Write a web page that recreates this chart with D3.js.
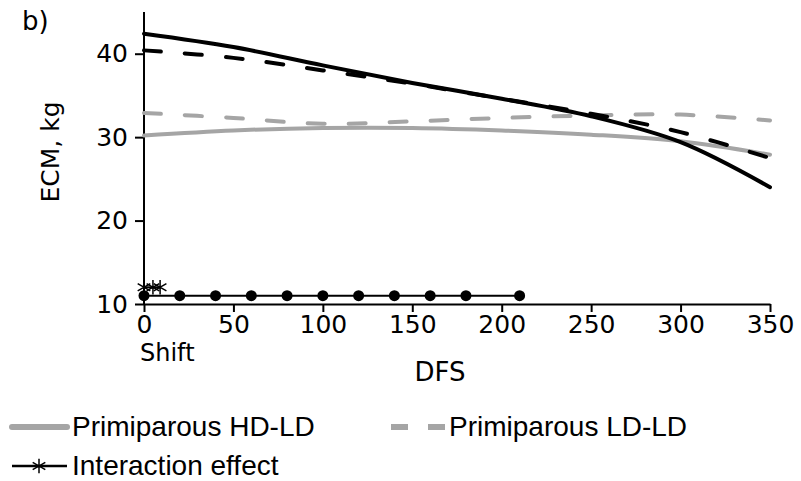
<!DOCTYPE html>
<html><head><meta charset="utf-8">
<script src="https://cdn.jsdelivr.net/npm/d3@7"></script>
<style>body{margin:0;background:#fff}svg{display:block}text{font-family:"DejaVu Sans",Arial,sans-serif;fill:#000}</style>
</head><body><svg id="c" width="801" height="481"></svg>
<script>
const dfs = [0, 50, 100, 150, 200, 250, 300, 350];
const multiHDLD = [42.4, 40.8, 38.6, 36.5, 34.6, 32.5, 29.4, 24.0];
const multiLDLD = [40.4, 39.5, 38.0, 36.4, 34.6, 32.8, 30.6, 27.5];
const primiHDLD = [30.2, 30.8, 31.1, 31.1, 30.8, 30.3, 29.5, 27.9];
const primiLDLD = [32.9, 32.3, 31.6, 31.9, 32.3, 32.6, 32.7, 32.0];
const parityDays = [0, 20, 40, 60, 80, 100, 120, 140, 160, 180, 210];
const parityLevel = 11;
const interactionDays = [0, 5, 9];
const interactionLevel = 12;
const xTicks = [0, 50, 100, 150, 200, 250, 300, 350];
const yTicks = [10, 20, 30, 40];
const legendLabels = ["Primiparous HD-LD", "Primiparous LD-LD", "Interaction effect"];

const svg = d3.select("#c");
const x = d3.scaleLinear().domain([0, 350]).range([144, 770]);
const y = d3.scaleLinear().domain([10, 45]).range([304, 12]);
const gray = "#a5a5a5";
const F = '"DejaVu Sans",Arial,sans-serif';
const L = '"Liberation Sans",Arial,sans-serif';

// axes
const xa = svg.append("g").attr("transform", `translate(0,${y(10)})`)
  .call(d3.axisBottom(x).tickValues(xTicks).tickSize(8).tickSizeOuter(0).tickPadding(3));
const ya = svg.append("g").attr("transform", `translate(${x(0)},0)`)
  .call(d3.axisLeft(y).tickValues(yTicks).tickSize(9).tickSizeOuter(0).tickPadding(7));
[xa, ya].forEach(a => {
  a.selectAll("path,line").attr("stroke", "#000").attr("stroke-width", 2);
  a.selectAll("text").style("font-size", "25px").style("font-family", F).attr("fill", "#000");
});
ya.select(".domain").attr("d", `M0,${y(10)}V${y(45)}`);

const line = d3.line().x(d => x(d[0])).y(d => y(d[1])).curve(d3.curveCatmullRom.alpha(0.5));
function series(vals, color, dash) {
  svg.append("path").datum(dfs.map((d, i) => [d, vals[i]]))
    .attr("d", line).attr("fill", "none").attr("stroke", color)
    .attr("stroke-width", 4).attr("stroke-dasharray", dash || null).attr("stroke-linecap", "round");
}
series(primiHDLD, gray);
series(primiLDLD, gray, "17,24");
series(multiLDLD, "#000", "17,24");
series(multiHDLD, "#000");

// parity effect
svg.append("path").datum(parityDays.map(d => [d, parityLevel]))
  .attr("d", d3.line().x(d => x(d[0])).y(d => y(d[1])))
  .attr("stroke", "#000").attr("stroke-width", 2).attr("fill", "none");
svg.selectAll(".dot").data(parityDays).join("circle")
  .attr("cx", d => x(d)).attr("cy", y(parityLevel)).attr("r", 5.5).attr("fill", "#000");

// interaction effect
svg.append("path").datum(interactionDays.map(d => [d, interactionLevel]))
  .attr("d", d3.line().x(d => x(d[0])).y(d => y(d[1])))
  .attr("stroke", "#000").attr("stroke-width", 2).attr("fill", "none");
const ast = d3.symbol().type(d3.symbolAsterisk).size(150);
svg.selectAll(".ast").data(interactionDays).join("path")
  .attr("transform", d => `translate(${x(d)},${y(interactionLevel)})`)
  .attr("d", ast).attr("stroke", "#000").attr("stroke-width", 1.5).attr("fill", "none");

// labels
svg.append("text").attr("x", 22).attr("y", 30).style("font-size", "26px").style("font-family", F).text("b)");
svg.append("text").attr("transform", "translate(59,152) rotate(-90)").attr("text-anchor", "middle")
  .style("font-size", "25px").style("font-family", F).text("ECM, kg");
svg.append("text").attr("x", 140).attr("y", 361).style("font-size", "24px").style("font-family", F).text("Shift");
svg.append("text").attr("x", 440).attr("y", 381).attr("text-anchor", "middle").style("font-size", "26px").style("font-family", F).text("DFS");

// legend
const lg = svg.append("g");
lg.append("line").attr("x1", 12).attr("x2", 67).attr("y1", 427).attr("y2", 427).attr("stroke", gray).attr("stroke-width", 6).attr("stroke-linecap", "round");
lg.append("text").attr("x", 72).attr("y", 436).style("font-size", "28px").style("font-family", L).text(legendLabels[0]);
lg.append("line").attr("x1", 391).attr("x2", 446).attr("y1", 427).attr("y2", 427).attr("stroke", gray).attr("stroke-width", 6).attr("stroke-dasharray", "17,20");
lg.append("text").attr("x", 449).attr("y", 436).style("font-size", "28px").style("font-family", L).text(legendLabels[1]);
lg.append("line").attr("x1", 12).attr("x2", 67).attr("y1", 466).attr("y2", 466).attr("stroke", "#000").attr("stroke-width", 2.5);
lg.append("path").attr("transform", "translate(39,466)").attr("d", ast).attr("stroke", "#000").attr("stroke-width", 1.5).attr("fill", "none");
lg.append("text").attr("x", 72).attr("y", 475).style("font-size", "28px").style("font-family", L).text(legendLabels[2]);
</script></body></html>
